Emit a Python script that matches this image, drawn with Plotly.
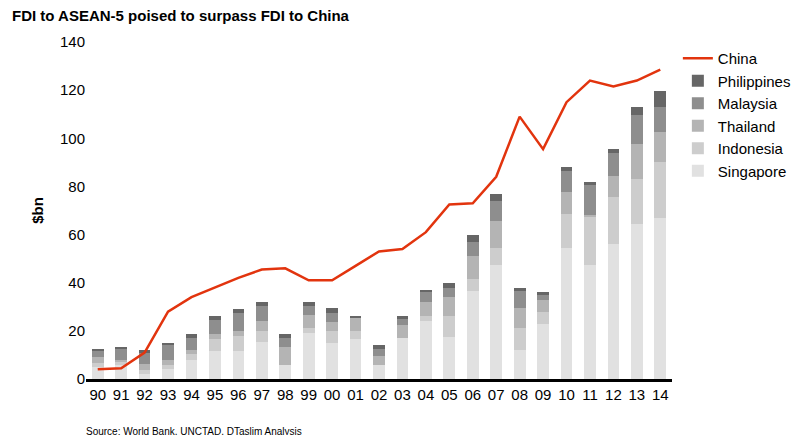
import plotly.graph_objects as go

years = ["90", "91", "92", "93", "94", "95", "96", "97", "98", "99", "00", "01", "02",
         "03", "04", "05", "06", "07", "08", "09", "10", "11", "12", "13", "14"]
singapore = [5, 6, 2, 4, 8, 11.5, 11.5, 15.5, 6, 19, 15, 16.5, 6, 17, 24, 17.5, 36.5, 47.5, 12, 23, 54.5, 47.5, 56, 64.5, 67]
indonesia = [1.5, 1, 1.8, 2, 2.5, 5, 6.5, 4.5, 0, 2, 5, 3.5, 0, 0, 2, 8.5, 5, 7, 9, 5, 14, 20, 19.5, 18.5, 23]
thailand = [2.5, 1, 2.6, 2, 1.5, 2, 2, 4, 7.5, 5.5, 3.5, 5.5, 3.5, 5.5, 6, 8, 9.5, 11, 8.5, 5, 9, 0.5, 9, 14.5, 12.5]
malaysia = [2.5, 4.5, 4.6, 6, 5, 6, 7.5, 6.5, 3.5, 4, 4, 0, 3, 2.5, 4.5, 4, 6, 8.5, 7, 2, 9, 12.5, 9.5, 12, 10.5]
philippines = [1, 0.5, 1, 1, 1.5, 1.5, 1.5, 1.5, 1.5, 1.5, 2, 0.5, 1.5, 1, 0.5, 2, 3, 3, 1.5, 1, 1.5, 1.5, 1.5, 3.5, 6.5]
china = [4, 4.5, 11, 28, 34, 38, 42, 45.5, 46, 41, 41, 47, 53, 54, 61, 72.5, 73, 84, 109, 95.5, 115, 124, 121.5, 124, 128.5]

series = [("Singapore", singapore, "#e1e1e1"), ("Indonesia", indonesia, "#cdcdcd"),
          ("Thailand", thailand, "#b4b4b4"), ("Malaysia", malaysia, "#8e8e8e"),
          ("Philippines", philippines, "#666666")]

fig = go.Figure()
for name, vals, col in series:
    fig.add_trace(go.Bar(x=years, y=vals, name=name, marker=dict(color=col, line=dict(width=0))))
fig.add_trace(go.Scatter(x=years, y=china, name="China", mode="lines",
                         line=dict(color="#e2340e", width=2.5)))

fig.update_layout(
    width=800, height=435,
    barmode="stack", bargap=0.5,
    font=dict(family="Liberation Sans, Arial", size=14, color="black"),
    paper_bgcolor="white", plot_bgcolor="white",
    margin=dict(l=78, r=117, t=34, b=64),
    title=dict(text="<b>FDI to ASEAN-5 poised to surpass FDI to China</b>", x=0.005, y=0.995,
               xanchor="left", yanchor="top", font=dict(size=15)),
    legend=dict(traceorder="reversed", x=1.01, y=1.0, xanchor="left", yanchor="top",
                font=dict(size=15), itemwidth=30),
    annotations=[dict(text="Source: World Bank, UNCTAD, DTaslim Analysis", x=-0.004, y=-0.135,
                      xref="paper", yref="paper", showarrow=False, font=dict(size=10),
                      xanchor="left", yanchor="top")],
)
fig.update_xaxes(type="category", showline=True, linecolor="black", linewidth=2.5,
                 ticks="", showgrid=False, tickfont=dict(size=15))
fig.update_yaxes(range=[0, 140], dtick=20, showgrid=False, zeroline=False, showline=False,
                 tickfont=dict(size=15), title=dict(text="<b>$bn</b>", standoff=12, font=dict(size=15)))

fig.write_html("out.html")
